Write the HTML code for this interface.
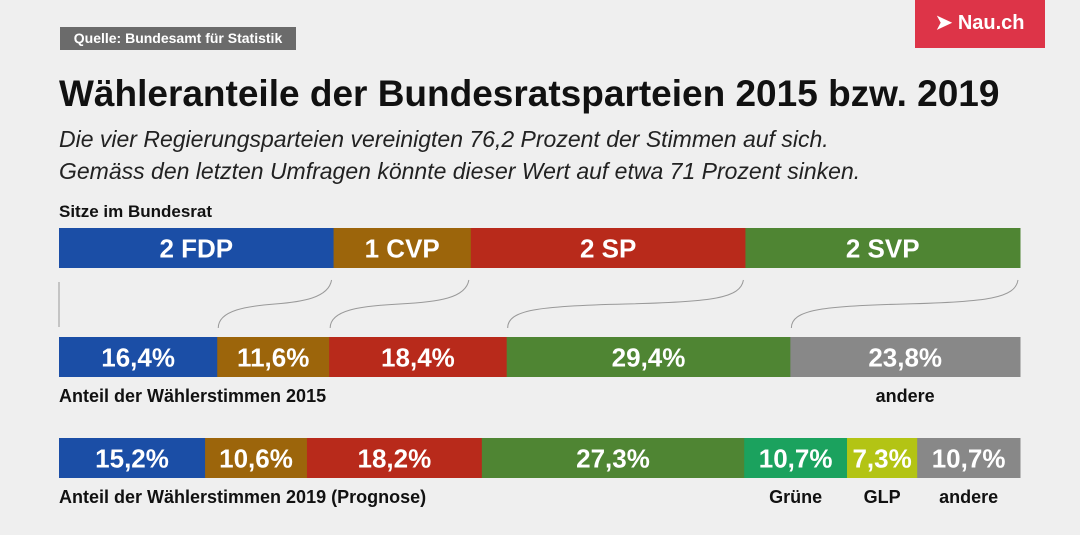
<!DOCTYPE html>
<html><head><meta charset="utf-8"><style>
body{margin:0;background:#efefef;font-family:"Liberation Sans",sans-serif;}
#wrap{position:relative;width:1080px;height:535px;overflow:hidden;background:#efefef;}
.abs{position:absolute;}
</style></head><body>
<div id="wrap">
<div class="abs" style="left:60px;top:27px;width:236px;height:23px;background:#6b6b6b;color:#fff;font-size:14px;font-weight:bold;line-height:23px;text-align:center;">Quelle: Bundesamt für Statistik</div>
<div class="abs" style="left:915px;top:0;width:130px;height:48px;background:#dd3448;color:#fff;font-size:20px;font-weight:bold;line-height:46px;text-align:center;">➤ Nau.ch</div>
<div class="abs" style="left:59px;top:73px;font-size:37px;font-weight:bold;color:#111;white-space:nowrap;letter-spacing:0px;">Wähleranteile der Bundesratsparteien 2015 bzw. 2019</div>
<div class="abs" style="left:59px;top:123px;font-size:23px;font-style:italic;color:#222;line-height:32px;white-space:nowrap;">Die vier Regierungsparteien vereinigten 76,2 Prozent der Stimmen auf sich.<br>Gemäss den letzten Umfragen könnte dieser Wert auf etwa 71 Prozent sinken.</div>
<div class="abs" style="left:59px;top:202px;font-size:17px;font-weight:bold;color:#111;">Sitze im Bundesrat</div>
<svg id="chart" class="abs" style="left:0;top:0" width="1080" height="535"></svg>
</div>
<script>
const seatLabels=["2 FDP","1 CVP","2 SP","2 SVP"];
const seatValues=[2,1,2,2];
const seatColors=["#1b4ea6","#9c650b","#b82a1b","#4f8533"];
const labels2015=["16,4%","11,6%","18,4%","29,4%","23,8%"];
const values2015=[16.4,11.6,18.4,29.4,23.8];
const colors2015=["#1b4ea6","#9c650b","#b82a1b","#4f8533","#888888"];
const labels2019=["15,2%","10,6%","18,2%","27,3%","10,7%","7,3%","10,7%"];
const values2019=[15.2,10.6,18.2,27.3,10.7,7.3,10.7];
const colors2019=["#1b4ea6","#9c650b","#b82a1b","#4f8533","#1ba25e","#b3c414","#888888"];
const X0=59,W=961;
const svg=document.getElementById('chart');
const NS="http://www.w3.org/2000/svg";
function mk(t,a){const e=document.createElementNS(NS,t);for(const k in a)e.setAttribute(k,a[k]);svg.appendChild(e);return e;}
function xs(vals){const s=vals.reduce((a,b)=>a+b,0);let acc=0;const r=[X0];vals.forEach(v=>{acc+=v;r.push(X0+W*acc/s);});return r;}
function row(vals,cols,labs,y,h,fs,name){
  const b=xs(vals);
  vals.forEach((v,i)=>{
    const r=mk('rect',{x:b[i],y:y,width:b[i+1]-b[i]+0.5,height:h,fill:cols[i]});
    
    
    const t=mk('text',{x:(b[i]+b[i+1])/2,y:y+h/2+fs*0.36,'text-anchor':'middle','font-size':fs,'font-weight':'bold',fill:'#fff','font-family':'Liberation Sans, sans-serif'});
    t.textContent=labs[i];
    
    
  });
  return b;
}
const bs=row(seatValues,seatColors,seatLabels,228,40,26,'seats');
const b15=row(values2015,colors2015,labels2015,337,40,26,'share-2015');
const b19=row(values2019,colors2019,labels2019,438,40,26,'share-2019');
const l0=mk('line',{x1:X0,y1:282,x2:X0,y2:327,stroke:'#999','stroke-width':1});


for(let i=1;i<=4;i++){
  const a=bs[i]-2,c=b15[i]+1,y1=280,y2=328;
  const p=mk('path',{d:`M${a} ${y1} C${a-3} ${y1+18},${a-30} ${y1+22},${(a+c)/2} ${(y1+y2)/2} S${c} ${y2-18},${c} ${y2}`,fill:'none',stroke:'#999','stroke-width':1});
  
  
}
function txt(s,x,y,anchor,name){
  const t=mk('text',{x:x,y:y,'text-anchor':anchor,'font-size':18,'font-weight':'bold',fill:'#111','font-family':'Liberation Sans, sans-serif'});
  t.textContent=s;
  
  
}
txt("Anteil der Wählerstimmen 2015",59,402,'start','label-2015');
txt("andere",(b15[4]+b15[5])/2,402,'middle','label-andere-2015');
txt("Anteil der Wählerstimmen 2019 (Prognose)",59,503,'start','label-2019');
txt("Grüne",(b19[4]+b19[5])/2,503,'middle','label-gruene');
txt("GLP",(b19[5]+b19[6])/2,503,'middle','label-glp');
txt("andere",(b19[6]+b19[7])/2,503,'middle','label-andere-2019');
</script>
</body></html>
